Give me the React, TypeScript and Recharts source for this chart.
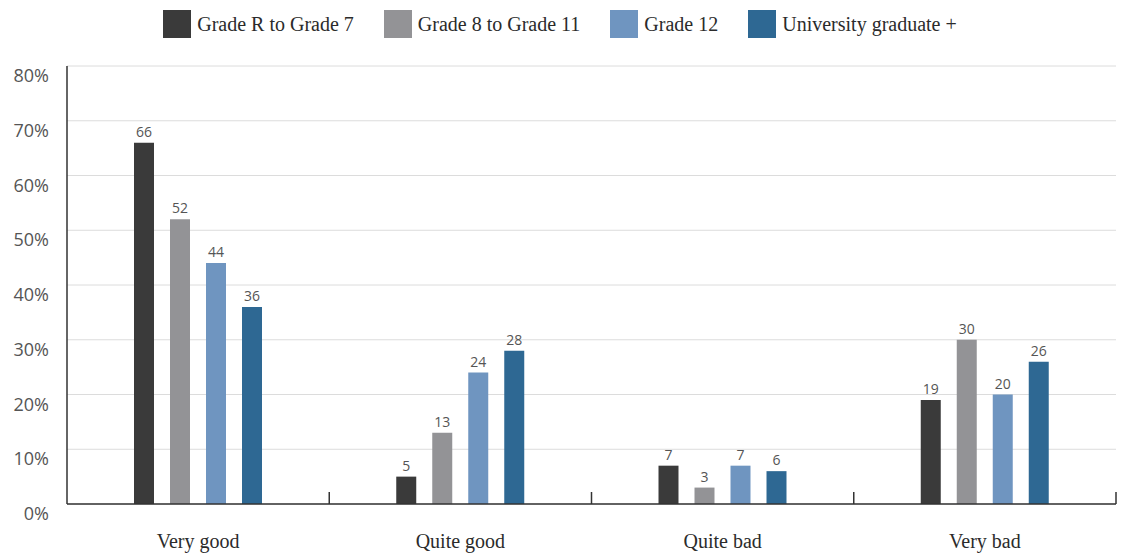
import React from 'react';
import { BarChart, Bar, XAxis, YAxis, CartesianGrid, Legend, LabelList } from 'recharts';

const categories = ['Very good', 'Quite good', 'Quite bad', 'Very bad'];
const gradeRto7 = [66, 5, 7, 19];
const grade8to11 = [52, 13, 3, 30];
const grade12 = [44, 24, 7, 20];
const university = [36, 28, 6, 26];
const yTicks = [0, 10, 20, 30, 40, 50, 60, 70, 80];

const series = [
  { key: 'r7', name: 'Grade R to Grade 7', color: '#3a3a3a' },
  { key: 'g11', name: 'Grade 8 to Grade 11', color: '#939396' },
  { key: 'g12', name: 'Grade 12', color: '#6f95c0' },
  { key: 'uni', name: 'University graduate +', color: '#2e6893' },
];

const data = categories.map((c, i) => ({
  category: c,
  r7: gradeRto7[i],
  g11: grade8to11[i],
  g12: grade12[i],
  uni: university[i],
}));

const sans = '"Open Sans", sans-serif';
const serif = '"Liberation Serif", serif';

const XTick = (props: any) => {
  const { x, y, payload } = props;
  const half = payload?.offset ?? 0;
  return (
    <g>
      <line x1={x + half} x2={x + half} y1={y} y2={y - 12} stroke="#333" strokeWidth={1.5} />
      <text x={x} y={y} dy={44} textAnchor="middle" fill="#2b2b2b" fontFamily={serif} fontSize={20}>
        {payload.value}
      </text>
    </g>
  );
};

const YTick = (props: any) => {
  const { x, y, payload } = props;
  return (
    <text x={x} y={y} dy={16} textAnchor="end" fill="#555" fontFamily={sans} fontSize={18}>
      {`${payload.value}%`}
    </text>
  );
};

const LegendContent = () => (
  <div style={{ display: 'flex', justifyContent: 'center', width: 1128, paddingRight: 8, boxSizing: 'border-box' }}>
    {series.map((s, i) => (
      <div key={s.key} style={{ display: 'flex', alignItems: 'center', marginRight: i < series.length - 1 ? 30 : 0 }}>
        <div style={{ width: 28, height: 28, background: s.color, marginRight: 6 }} />
        <span style={{ fontFamily: serif, fontSize: 20, color: '#2b2b2b', lineHeight: '28px' }}>{s.name}</span>
      </div>
    ))}
  </div>
);

export default function App() {
  return (
    <div style={{ position: 'absolute', left: 0, top: 0, width: 1128, height: 555, background: '#fff' }}>
      <BarChart
        width={1128}
        height={555}
        data={data}
        margin={{ top: 66, right: 12, bottom: 0, left: 0 }}
        barSize={20}
        barGap={16}
      >
        <CartesianGrid vertical={false} stroke="#dcdcdc" />
        <XAxis
          dataKey="category"
          axisLine={{ stroke: '#333', strokeWidth: 1.5 }}
          tickLine={false}
          tickSize={0}
          tickMargin={0}
          tick={<XTick />}
          interval={0}
          height={51}
        />
        <YAxis
          width={67}
          domain={[0, 80]}
          ticks={yTicks}
          axisLine={{ stroke: '#333', strokeWidth: 1.5 }}
          tickLine={false}
          tickSize={0}
          tickMargin={18}
          tick={<YTick />}
          interval={0}
        />
        <Legend
          layout="horizontal"
          verticalAlign="middle"
          align="center"
          content={<LegendContent />}
          wrapperStyle={{ position: 'absolute', top: 10, left: 0, width: 1128, height: 28 }}
        />
        {series.map((s) => (
          <Bar key={s.key} dataKey={s.key} name={s.name} fill={s.color} isAnimationActive={false}>
            <LabelList dataKey={s.key} position="top" offset={6} fill="#555" fontFamily={sans} fontSize={14} />
          </Bar>
        ))}
      </BarChart>
    </div>
  );
}
